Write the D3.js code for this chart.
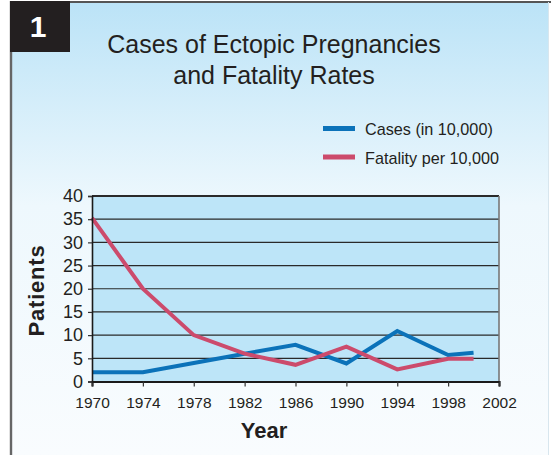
<!DOCTYPE html>
<html>
<head>
<meta charset="utf-8">
<script src="https://cdn.jsdelivr.net/npm/d3@7"></script>
<style>
  html, body { margin: 0; padding: 0; background: #ffffff; }
  svg { display: block; font-family: "Liberation Sans", Arial, Helvetica, sans-serif; }
</style>
</head>
<body>
<svg id="chart" width="551" height="455"></svg>
<script>
// Data
const years = [1970, 1974, 1978, 1982, 1986, 1990, 1994, 1998, 2000];
const cases = [2, 2, 4, 6, 7.9, 3.9, 10.9, 5.7, 6.2];
const fatality = [35.3, 20, 10, 6, 3.6, 7.5, 2.6, 4.9, 4.9];
const seriesNames = ["Cases (in 10,000)", "Fatality per 10,000"];
const seriesColors = ["#0b72b9", "#cc4b6c"];
const xTicks = [1970, 1974, 1978, 1982, 1986, 1990, 1994, 1998, 2002];
const yTicks = [0, 5, 10, 15, 20, 25, 30, 35, 40];
const titleLines = ["Cases of Ectopic Pregnancies", "and Fatality Rates"];
const panelNumber = "1";

const svg = d3.select("#chart");

// Panel background gradient
const defs = svg.append("defs");
const grad = defs.append("linearGradient").attr("id", "bg").attr("x1", 0).attr("y1", 0).attr("x2", 0).attr("y2", 1);
grad.append("stop").attr("offset", "0%").attr("stop-color", "#bbe3f7");
grad.append("stop").attr("offset", "45%").attr("stop-color", "#eef8fd");
grad.append("stop").attr("offset", "100%").attr("stop-color", "#f9fcfe");

svg.append("rect").attr("x", 11).attr("y", 2).attr("width", 538).attr("height", 453).attr("fill", "url(#bg)");
// frame
svg.append("line").attr("x1", 10).attr("x2", 551).attr("y1", 2).attr("y2", 2).attr("stroke", "#555").attr("stroke-width", 2);
svg.append("line").attr("x1", 11).attr("x2", 11).attr("y1", 1).attr("y2", 455).attr("stroke", "#666").attr("stroke-width", 2.4);
svg.append("line").attr("x1", 548.5).attr("x2", 548.5).attr("y1", 2).attr("y2", 455).attr("stroke", "#d8e6ee").attr("stroke-width", 1);

// Number badge
svg.append("rect").attr("x", 10).attr("y", 1).attr("width", 60).attr("height", 51).attr("fill", "#231f20");
svg.append("text").attr("x", 38).attr("y", 37).attr("text-anchor", "middle")
  .attr("font-size", 30).attr("font-weight", "bold").attr("fill", "#ffffff").text(panelNumber);

// Title
svg.append("g").selectAll("text").data(titleLines).join("text")
  .attr("x", 274).attr("y", (d, i) => 53 + i * 31)
  .attr("text-anchor", "middle").attr("font-size", 25).attr("fill", "#231f20")
  .text(d => d);

// Scales
const x = d3.scaleLinear().domain([1970, 2002]).range([92, 499]);
const y = d3.scaleLinear().domain([0, 40]).range([381.5, 196]);

// Plot area
svg.append("rect").attr("x", x(1970)).attr("y", y(40))
  .attr("width", x(2002) - x(1970)).attr("height", y(0) - y(40))
  .attr("fill", "#bde5f8");

// Gridlines
svg.append("g").selectAll("line").data(yTicks.filter(t => t > 0)).join("line")
  .attr("x1", x(1970)).attr("x2", x(2002))
  .attr("y1", d => y(d)).attr("y2", d => y(d))
  .attr("stroke", "#2a2a2a").attr("stroke-width", d => d === 40 ? 1.8 : 1.2);
svg.append("line").attr("x1", x(2002)).attr("x2", x(2002)).attr("y1", y(40)).attr("y2", y(0))
  .attr("stroke", "#777").attr("stroke-width", 1.6);

// Series lines
const line = d3.line().x((d, i) => x(years[i])).y(d => y(d));
[cases, fatality].forEach((vals, k) => {
  svg.append("path").datum(vals).attr("d", line)
    .attr("fill", "none").attr("stroke", seriesColors[k]).attr("stroke-width", 4)
    .attr("stroke-linejoin", "miter").attr("stroke-linecap", "butt");
});

// Axes
const xAxis = d3.axisBottom(x).tickValues(xTicks).tickFormat(d3.format("d")).tickSize(5).tickPadding(10);
const gx = svg.append("g").attr("transform", `translate(0,${y(0)})`).call(xAxis);
gx.attr("font-family", null).attr("font-size", null);
gx.select(".domain").attr("stroke", "#1a1a1a").attr("stroke-width", 2.2);
gx.selectAll(".tick line").attr("stroke", "#333").attr("stroke-width", 1.2);
gx.selectAll(".tick text").attr("font-size", 15.5).attr("fill", "#231f20");

const yAxis = d3.axisLeft(y).tickValues(yTicks).tickSize(4).tickPadding(5);
const gy = svg.append("g").attr("transform", `translate(${x(1970)},0)`).call(yAxis);
gy.attr("font-family", null).attr("font-size", null);
gy.select(".domain").attr("stroke", "#1a1a1a").attr("stroke-width", 1.6);
gy.selectAll(".tick line").attr("stroke", "#333").attr("stroke-width", 1.2);
gy.selectAll(".tick text").attr("font-size", 18).attr("fill", "#231f20");

// Axis titles
svg.append("text").attr("x", 264).attr("y", 438).attr("text-anchor", "middle")
  .attr("font-size", 22).attr("font-weight", "bold").attr("fill", "#231f20").text("Year");
svg.append("text").attr("transform", "translate(44,290.5) rotate(-90)").attr("text-anchor", "middle")
  .attr("font-size", 22).attr("font-weight", "bold").attr("letter-spacing", 0.8).attr("fill", "#231f20").text("Patients");

// Legend
const legend = svg.append("g").selectAll("g").data(seriesNames).join("g")
  .attr("transform", (d, i) => `translate(0,${128.5 + i * 28.5})`);
legend.append("line").attr("x1", 323).attr("x2", 355).attr("y1", 0).attr("y2", 0)
  .attr("stroke", (d, i) => seriesColors[i]).attr("stroke-width", 5);
legend.append("text").attr("x", 365).attr("y", 6.5).attr("font-size", 16.2).attr("fill", "#231f20").text(d => d);
</script>
</body>
</html>
